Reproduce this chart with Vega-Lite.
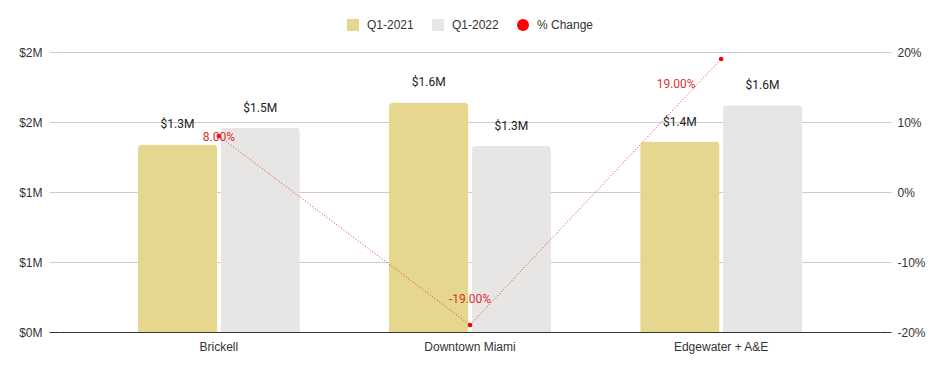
{
  "$schema": "https://vega.github.io/schema/vega-lite/v6.json",
  "width": 820,
  "height": 280,
  "autosize": {"type": "none"},
  "padding": {"left": 60, "top": 52, "right": 64, "bottom": 39},
  "background": "white",
  "config": {
    "view": {"stroke": null},
    "font": "Liberation Sans",
    "axis": {"labelFont": "Liberation Sans", "labelFontSize": 12, "labelColor": "#333333", "title": null}
  },
  "datasets": {
    "prices": [
      {"area": "Brickell", "period": "Q1-2021", "price": 1340000},
      {"area": "Brickell", "period": "Q1-2022", "price": 1460000},
      {"area": "Downtown Miami", "period": "Q1-2021", "price": 1640000},
      {"area": "Downtown Miami", "period": "Q1-2022", "price": 1330000},
      {"area": "Edgewater + A&E", "period": "Q1-2021", "price": 1360000},
      {"area": "Edgewater + A&E", "period": "Q1-2022", "price": 1620000}
    ],
    "change": [
      {"area": "Brickell", "pct": 8},
      {"area": "Downtown Miami", "pct": -19},
      {"area": "Edgewater + A&E", "pct": 19}
    ]
  },
  "layer": [
    {
      "data": {"name": "prices"},
      "encoding": {
        "x": {"field": "area", "type": "nominal", "sort": null,
          "scale": {"paddingInner": 0.355, "paddingOuter": 0.31},
          "axis": {"title": null, "ticks": false, "domain": true, "domainColor": "#333333", "labelPadding": 9, "labelAngle": 0, "grid": false}},
        "xOffset": {"field": "period", "type": "nominal", "sort": null, "scale": {"paddingInner": 0.04}},
        "y": {"field": "price", "type": "quantitative",
          "scale": {"domain": [0, 2000000], "nice": false, "zero": true},
          "axis": {"values": [0, 500000, 1000000, 1500000, 2000000],
            "labelExpr": "'$' + round(datum.value/1000000) + 'M'",
            "domain": false, "grid": true, "gridColor": "#cccccc",
            "tickSize": 11, "tickColor": {"condition": {"test": "datum.value === 0", "value": "#333333"}, "value": "#cccccc"},
            "labelPadding": 7, "title": null}}
      },
      "layer": [
        {
          "mark": {"type": "bar", "cornerRadiusTopLeft": 4, "cornerRadiusTopRight": 4},
          "encoding": {
            "color": {"field": "period", "type": "nominal",
              "scale": {"domain": ["Q1-2021", "Q1-2022", "% Change"], "range": ["#e6d78e", "#e8e6e4", "#ff0000"]},
              "legend": {"title": null, "orient": "none", "legendX": 287, "legendY": -33, "direction": "horizontal",
                "symbolType": "square", "symbolSize": 144, "symbolStrokeWidth": 0,
                "labelFont": "Liberation Sans", "labelFontSize": 12, "labelColor": "#333333",
                "labelOffset": 8, "columnPadding": 18,
                "encode": {"symbols": {"update": {"shape": {"signal": "datum.value === '% Change' ? 'circle' : 'square'"}}}}}}
          }
        },
        {
          "mark": {"type": "text", "baseline": "bottom", "dy": -13, "font": "Roboto", "fontSize": 12, "color": "#222222"},
          "encoding": {
            "text": {"field": "price", "type": "quantitative", "format": "$.2s"}
          }
        }
      ]
    },
    {
      "data": {"name": "change"},
      "encoding": {
        "x": {"field": "area", "type": "nominal", "sort": null,
          "scale": {"paddingInner": 0.355, "paddingOuter": 0.31}},
        "y": {"field": "pct", "type": "quantitative",
          "scale": {"domain": [-20, 20], "nice": false},
          "axis": {"orient": "right", "values": [-20, -10, 0, 10, 20],
            "labelExpr": "datum.value + '%'", "domain": false, "grid": false,
            "tickSize": 11, "tickColor": {"condition": {"test": "datum.value === -20", "value": "#333333"}, "value": "#cccccc"},
            "labelPadding": 6, "title": null}}
      },
      "layer": [
        {
          "mark": {"type": "line", "color": "#e8303a", "strokeDash": [1, 2], "strokeWidth": 1}
        },
        {
          "mark": {"type": "point", "filled": true, "size": 22, "opacity": 1},
          "encoding": {"color": {"datum": "% Change"}}
        },
        {
          "transform": [{"filter": "datum.area === 'Brickell'"}, {"calculate": "format(datum.pct, '.2f') + '%'", "as": "lbl"}],
          "mark": {"type": "text", "dy": 1, "font": "Roboto", "fontSize": 12, "color": "#d93036"},
          "encoding": {"text": {"field": "lbl"}}
        },
        {
          "transform": [{"filter": "datum.area === 'Downtown Miami'"}, {"calculate": "replace(format(datum.pct, '.2f'), '\u2212', '-') + '%'", "as": "lbl"}],
          "mark": {"type": "text", "dy": -26, "font": "Roboto", "fontSize": 12, "color": "#d93036"},
          "encoding": {"text": {"field": "lbl"}}
        },
        {
          "transform": [{"filter": "datum.area === 'Edgewater + A&E'"}, {"calculate": "format(datum.pct, '.2f') + '%'", "as": "lbl"}],
          "mark": {"type": "text", "dx": -45, "dy": 25, "font": "Roboto", "fontSize": 12, "color": "#d93036"},
          "encoding": {"text": {"field": "lbl"}}
        }
      ]
    }
  ],
  "resolve": {"scale": {"y": "independent"}}
}
